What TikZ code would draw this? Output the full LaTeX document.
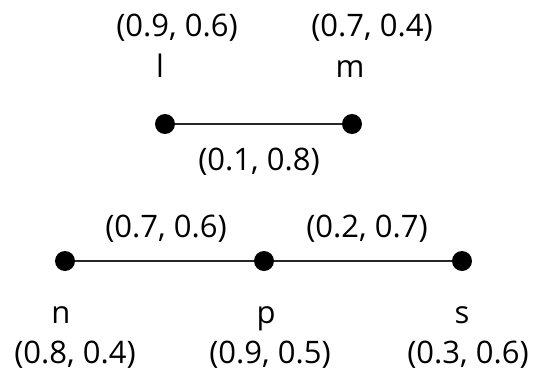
\documentclass[tikz,border=0pt]{standalone}
\usepackage{fontspec}
\setmainfont{Open Sans}
\begin{document}
\begin{tikzpicture}[x=1pt,y=-1pt,
  dot/.style={circle,fill=black,inner sep=0pt,minimum size=20pt},
  lbl/.style={anchor=base,inner sep=0pt,font=\fontsize{31}{36}\selectfont},
  edge/.style={line width=1.3pt,draw=black!85}]
\useasboundingbox (0,0) rectangle (550,378);
\node[dot] (l) at (165,124) {};
\node[dot] (m) at (352,124) {};
\node[dot] (n) at (65,261) {};
\node[dot] (p) at (264,261) {};
\node[dot] (s) at (462,261) {};
\draw[edge] (l) -- (m);
\draw[edge] (n) -- (p);
\draw[edge] (p) -- (s);
\node[lbl] (lv) at (177,36.5) {(0.9, 0.6)};
\node[lbl] (ln) at (160,77) {l};
\node[lbl] (mv) at (372,36.5) {(0.7, 0.4)};
\node[lbl] (mn) at (350,77) {m};
\node[lbl] (lm) at (259,170) {(0.1, 0.8)};
\node[lbl] (np) at (166,237) {(0.7, 0.6)};
\node[lbl] (ps) at (367,237) {(0.2, 0.7)};
\node[lbl] (nn) at (61,323) {n};
\node[lbl] (nv) at (75,363) {(0.8, 0.4)};
\node[lbl] (pn) at (266,323) {p};
\node[lbl] (pv) at (270,363) {(0.9, 0.5)};
\node[lbl] (sn) at (462,323) {s};
\node[lbl] (sv) at (468,363) {(0.3, 0.6)};
\end{tikzpicture}
\end{document}
